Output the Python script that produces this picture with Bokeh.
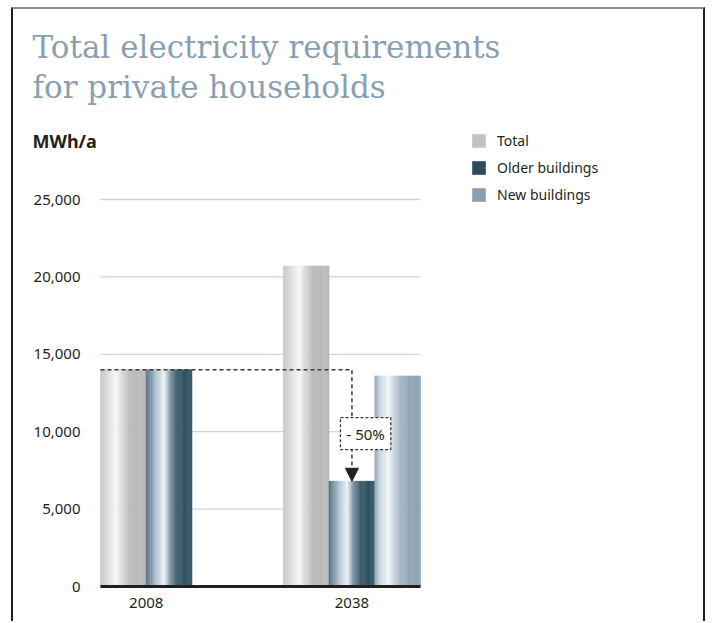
from bokeh.plotting import figure
from bokeh.models import (Range1d, ColumnDataSource, Label, Legend, LegendItem, Arrow, NormalHead)
from bokeh.core.properties import value
from bokeh.embed import file_html
from bokeh.resources import INLINE

# ---------------- data ----------------
years = ["2008", "2038"]
series = ["Total", "Older buildings", "New buildings"]
total_vals = [14000, 20700]
older_vals = [14000, 6800]
new_vals = [None, 13600]
change_label = "- 50%"
y_ticks = [0, 5000, 10000, 15000, 20000, 25000]
title_lines = ["Total electricity requirements", "for private households"]
unit_label = "MWh/a"

# ---------------- styling ----------------
INK = "#231f20"
TITLE_COL = "#8a9fb1"
GRID_COL = "#c9d5e0"
legend_colors = ["#c1c2c6", "#2b4a5b", "#8b9fb0"]
profiles = {
    "Total": [(0.0, "#c6c6c6"), (0.15, "#dadada"), (0.35, "#f8f8f8"), (0.5, "#d6d6d6"),
              (0.65, "#bcbcbc"), (1.0, "#b9b9b9")],
    "Older buildings": [(0.0, "#4f6f80"), (0.2, "#a8bccb"), (0.4, "#eef3f6"), (0.56, "#6d8797"),
                        (0.7, "#3d5e6e"), (0.85, "#2f5060"), (1.0, "#34566a")],
    "New buildings": [(0.0, "#93a8b7"), (0.12, "#c8d4dd"), (0.3, "#f2f6f8"), (0.45, "#c3cfd8"),
                      (0.6, "#a2b4c1"), (0.8, "#8fa4b4"), (1.0, "#8fa4b4")],
}


def hex2rgb(h):
    h = h.lstrip("#")
    return tuple(int(h[i:i + 2], 16) for i in (0, 2, 4))


def grad(stops, t):
    for (t0, c0), (t1, c1) in zip(stops[:-1], stops[1:]):
        if t0 <= t <= t1:
            f = 0 if t1 == t0 else (t - t0) / (t1 - t0)
            a, b = hex2rgb(c0), hex2rgb(c1)
            return "#%02x%02x%02x" % tuple(round(a[i] + (b[i] - a[i]) * f) for i in range(3))
    return stops[-1][1]


# slot layout: group start slot per year; bars occupy consecutive slots
group_start = [0, 4]
n_slots = 7
N = 40
cols = dict(left=[], right=[], top=[], bottom=[], color=[])
for gi, yr in enumerate(years):
    slot = group_start[gi]
    for name, vals in zip(series, [total_vals, older_vals, new_vals]):
        v = vals[gi]
        if v is None:
            continue
        for k in range(N):
            t = (k + 0.5) / N
            cols["left"].append(slot + k / N)
            cols["right"].append(slot + (k + 1) / N)
            cols["bottom"].append(0)
            cols["top"].append(v)
            cols["color"].append(grad(profiles[name], t))
        slot += 1
src = ColumnDataSource(cols)

# ---------------- geometry (page pixels) ----------------
OX, OY = 13, 9            # canvas origin on the page (inside the border box)
CW, CH = 694, 614         # canvas size
PLOT_L, PLOT_R = 100, 420 # page x of the plotting area
ZERO_Y = 586              # page y of value 0
px_per_unit = 77.4 / 5000
px_per_slot = (PLOT_R - PLOT_L) / n_slots
x_lo = (OX - PLOT_L) / px_per_slot
x_hi = (OX + CW - PLOT_L) / px_per_slot
y_hi = (ZERO_Y - OY) / px_per_unit
y_lo = -(OY + CH - ZERO_Y) / px_per_unit

p = figure(width=CW, height=CH, output_backend="svg", toolbar_location=None, title=None,
           x_range=Range1d(x_lo, x_hi), y_range=Range1d(y_lo, y_hi),
           min_border=0, min_border_left=0, min_border_right=0,
           min_border_top=0, min_border_bottom=0)
p.styles = {"margin-left": "11px", "margin-top": "7px",
            "border-left": "2px solid #231f20", "border-right": "2px solid #231f20",
            "border-top": "2px solid #8c8c8c"}
p.axis.visible = False
p.grid.visible = False
p.outline_line_color = None
p.background_fill_color = "white"
p.border_fill_color = "white"

# horizontal grid lines at the tick values
p.segment(x0=0, x1=n_slots, y0=y_ticks, y1=y_ticks, line_color=GRID_COL, line_width=1.3)

# bars (cylindrical shading)
p.quad(left="left", right="right", top="top", bottom="bottom", source=src,
       fill_color="color", line_color="color", line_width=0.6)

# baseline
p.segment(x0=0, x1=n_slots, y0=0, y1=0, line_color=INK, line_width=3)

# y tick labels
p.text(x=0, y=y_ticks, text=["{:,}".format(v) for v in y_ticks], x_offset=-20,
       text_align="right", text_baseline="middle", text_font=value("Noto Sans"),
       text_font_size="15px", text_color=INK)

# category labels
centers = [group_start[0] + 1.0, group_start[1] + 1.5]
p.text(x=centers, y=0, text=years, y_offset=11, text_align="center", text_baseline="top",
       text_font=value("Noto Sans"), text_font_size="15px", text_color=INK)

# change annotation (-50%)
older_x = group_start[1] + 1.5
p.line(x=[group_start[0], older_x, older_x], y=[older_vals[0], older_vals[0], 9880],
       line_color="#3a3a3a", line_width=1.5, line_dash="4 3")
p.add_layout(Arrow(x_start=older_x, y_start=9880, x_end=older_x, y_end=older_vals[1],
                   line_color="#3a3a3a", line_width=1.5, line_dash="4 3",
                   end=NormalHead(size=13, fill_color=INK, line_color=INK, line_width=1)))
p.add_layout(Label(x=5.8, y=9880, text=change_label, text_align="center", text_baseline="middle",
                   text_font="Noto Sans", text_font_size="15px", text_color=INK,
                   background_fill_color="white", border_line_color="#3a3a3a",
                   border_line_dash="3 2", border_line_width=1.3, padding=6))

# title and unit (screen positions relative to the canvas bottom)
for txt, base in zip(title_lines, [46, 86]):
    p.add_layout(Label(x=32 - OX, y=(OY + CH) - base, x_units="screen", y_units="screen",
                       text=txt, text_font="DejaVu Serif", text_font_size="31px",
                       text_color=TITLE_COL, text_baseline="alphabetic"))
p.add_layout(Label(x=32 - OX, y=(OY + CH) - 140, x_units="screen", y_units="screen",
                   text=unit_label, text_font="Noto Sans", text_font_size="18px",
                   text_font_style="bold", text_color=INK, text_baseline="alphabetic"))

# legend
items = []
for name, c in zip(series, legend_colors):
    r = p.quad(left=[x_lo - 5], right=[x_lo - 4], top=[y_lo - 4], bottom=[y_lo - 5],
               fill_color=c, line_color=None)
    items.append(LegendItem(label=name, renderers=[r]))
legend_top, legend_h = 131, 73
p.add_layout(Legend(items=items, location=(470 - OX, (OY + CH) - (legend_top + legend_h)),
                    orientation="vertical",
                    glyph_width=17, glyph_height=17, label_height=17, spacing=8,
                    label_standoff=10, padding=0, margin=0,
                    border_line_color=None, background_fill_alpha=0,
                    label_text_font="Noto Sans", label_text_font_size="14px",
                    label_text_color=INK))

open("out.html", "w").write(file_html(p, INLINE))
